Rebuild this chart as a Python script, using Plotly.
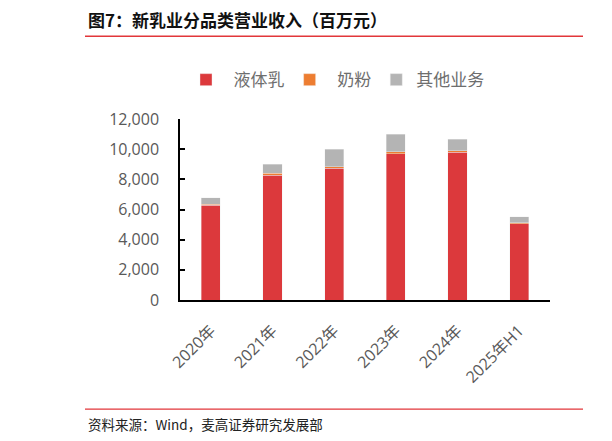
import plotly.graph_objs as go

# data (百万元)
years = ["2020年", "2021年", "2022年", "2023年", "2024年", "2025年H1"]
liquid_milk = [6280, 8270, 8730, 9700, 9810, 5050]
milk_powder = [70, 130, 110, 130, 90, 60]
other_biz = [420, 590, 1150, 1150, 750, 420]

W, H = 612, 441
OFF = 8  # the page body adds an 8px margin, so lay everything out 8px up/left
# plot box in reference pixels
L, R, T, B = 180, 550, 119, 300.5


def px(x):
    return (x - L) / (R - L)


def py(y):
    return (B - y) / (B - T)


cjk = "Noto Sans CJK SC"
num_font = "Open Sans, Noto Sans CJK SC"

series = [
    ("\u00a0\u00a0液体乳", liquid_milk, "rgb(220,57,60)"),
    ("\u00a0\u00a0奶粉", milk_powder, "rgb(237,125,49)"),
    ("其他业务", other_biz, "rgb(180,180,180)"),
]

data = []
for name, vals, col in series:
    data.append(go.Bar(
        x=years, y=vals, name=name,
        marker={'color': col, 'line': {'color': 'rgb(240,240,240)', 'width': 0.4}},
    ))

red = "rgb(226,54,58)"
shapes = []
for y in (36, 410):
    shapes.append(dict(type='line', xref='paper', yref='paper',
                       x0=px(85), x1=px(583), y0=py(y), y1=py(y),
                       line={'color': red, 'width': 1.3}))
    # edge of the neighbouring panel
    shapes.append(dict(type='line', xref='paper', yref='paper',
                       x0=px(607), x1=px(625), y0=py(y), y1=py(y),
                       line={'color': red, 'width': 1.3}))

annotations = [
    dict(text="<b>图7：新乳业分品类营业收入（百万元）</b>", xref='paper', yref='paper',
         x=px(86), y=py(19), xanchor='left', yanchor='middle', showarrow=False,
         font={'family': cjk, 'size': 17, 'color': '#111111'}),
    dict(text="资料来源：Wind，麦高证券研究发展部", xref='paper', yref='paper',
         x=px(86), y=py(425), xanchor='left', yanchor='middle', showarrow=False,
         font={'family': cjk, 'size': 13.5, 'color': '#222222'}),
    dict(text="<b>图</b>", xref='paper', yref='paper',
         x=px(606), y=py(19), xanchor='left', yanchor='middle', showarrow=False,
         font={'family': cjk, 'size': 17, 'color': '#111111'}),
    dict(text="资", xref='paper', yref='paper',
         x=px(606), y=py(425), xanchor='left', yanchor='middle', showarrow=False,
         font={'family': cjk, 'size': 13.5, 'color': '#222222'}),
]

layout = {
    'width': W, 'height': H,
    'margin': {'l': L - OFF, 'r': W - R + OFF, 't': T - OFF, 'b': H - B + OFF, 'pad': 0},
    'barmode': 'stack',
    'bargap': 0.69,
    'paper_bgcolor': 'white',
    'plot_bgcolor': 'white',
    'showlegend': True,
    'legend': {
        'orientation': 'h',
        'x': px(186), 'xanchor': 'left',
        'y': py(80), 'yanchor': 'middle',
        'font': {'family': cjk, 'size': 17, 'color': '#6e6e6e'},
        'itemwidth': 30,
        'traceorder': 'normal',
    },
    'xaxis': {
        'showgrid': False,
        'zeroline': False,
        'showline': True,
        'linecolor': 'black',
        'linewidth': 2,
        'ticks': '',
        'tickangle': -45,
        'ticklabelstandoff': 13,
        'tickfont': {'family': num_font, 'size': 16, 'color': '#595959'},
    },
    'yaxis': {
        'range': [0, 12000],
        'dtick': 2000,
        'tickformat': ',d',
        'showgrid': False,
        'zeroline': False,
        'showline': True,
        'linecolor': 'black',
        'linewidth': 1.5,
        'ticks': 'inside',
        'ticklen': 5,
        'tickwidth': 1.5,
        'tickcolor': 'black',
        'ticklabelstandoff': 16,
        'tickfont': {'family': num_font, 'size': 16, 'color': '#595959'},
    },
    'shapes': shapes,
    'annotations': annotations,
}

fig = go.Figure(data=data, layout=layout)
fig.write_html("out.html")
